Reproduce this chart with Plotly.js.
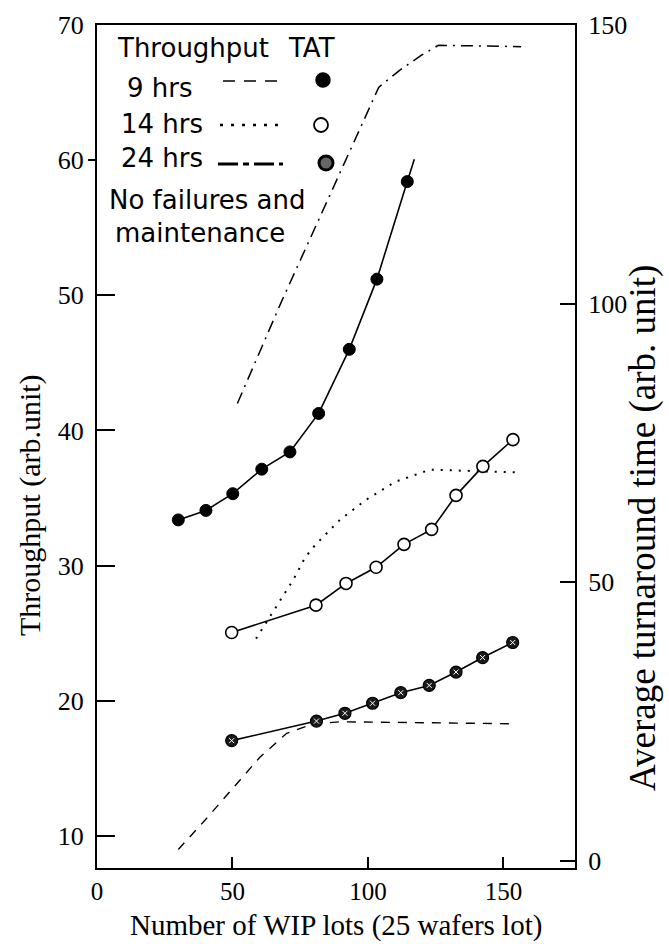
<!DOCTYPE html>
<html><head><meta charset="utf-8">
<script src="https://cdn.plot.ly/plotly-3.0.1.min.js"></script>
<style>html,body{margin:0;padding:0;background:#fff}</style>
</head><body><div id="chart" style="width:669px;height:944px"></div>
<script>
// ---- Average turnaround time (right axis), markers + solid line ----
const tat9_x = [30.0, 40.2, 50.1, 60.8, 71.2, 81.8, 93.1, 103.3, 114.5];
const tat9_y = [61.2, 62.9, 65.9, 70.3, 73.4, 80.3, 91.8, 104.4, 121.9];
const tat9_line_x = [30.0, 40.2, 50.1, 60.8, 71.2, 81.8, 93.1, 103.3, 114.5, 117.1];
const tat9_line_y = [61.2, 62.9, 65.9, 70.3, 73.4, 80.3, 91.8, 104.4, 121.9, 125.9];

const tat14_x = [49.7, 80.8, 91.9, 103.0, 113.3, 123.5, 132.5, 142.4, 153.5];
const tat14_y = [41.0, 45.9, 49.8, 52.7, 56.8, 59.5, 65.6, 70.8, 75.6];

const tat24_x = [49.7, 81.0, 91.5, 101.7, 112.1, 122.6, 132.5, 142.3, 153.4];
const tat24_y = [21.6, 25.1, 26.5, 28.3, 30.2, 31.5, 33.9, 36.5, 39.2];

// ---- Throughput (left axis), lines ----
const thr9_x = [30, 40, 50, 60, 70, 80, 90, 120, 154];
const thr9_y = [9.0, 11.2, 13.5, 15.8, 17.6, 18.3, 18.45, 18.4, 18.3];

const thr14_x = [58.7, 65.1, 72.4, 76.8, 80.4, 89.7, 99.5, 110.0, 122.9, 155];
const thr14_y = [24.6, 26.6, 28.95, 30.6, 31.5, 33.4, 34.9, 36.2, 37.1, 36.9];

const thr24_x = [51.8, 68, 85, 104, 112, 120, 126, 156.5];
const thr24_y = [42.0, 49.5, 57.0, 65.4, 66.7, 67.8, 68.5, 68.4];

// ---- axis ticks ----
const xTicks = [0, 50, 100, 150];
const leftTicks = [10, 20, 30, 40, 50, 60, 70];
const leftInnerTicks = [10, 20, 30, 40, 50];
const leftOuterTicks = [60];
const rightTicks = [0, 50, 100, 150];

const serif = 'Liberation Serif';
const sans = 'DejaVu Sans';

const traces = [
  {x: thr9_x, y: thr9_y, mode: 'lines', yaxis: 'y', line: {color: 'black', width: 1.4, dash: '9px,8px'}},
  {x: thr14_x, y: thr14_y, mode: 'lines', yaxis: 'y', line: {color: 'black', width: 2, dash: '2px,7px'}},
  {x: thr24_x, y: thr24_y, mode: 'lines', yaxis: 'y', line: {color: 'black', width: 1.5, dash: '12px,6px,2px,6px'}},
  {x: tat9_line_x, y: tat9_line_y, mode: 'lines', yaxis: 'y2', line: {color: 'black', width: 1.6}},
  {x: tat9_x, y: tat9_y, mode: 'markers', yaxis: 'y2', marker: {size: 12, color: 'black', line: {color: 'black', width: 1}}},
  {x: tat14_x, y: tat14_y, mode: 'lines+markers', yaxis: 'y2', line: {color: 'black', width: 1.6},
   marker: {size: 12, color: 'white', line: {color: 'black', width: 1.6}}},
  {x: tat24_x, y: tat24_y, mode: 'lines+markers', yaxis: 'y2', line: {color: 'black', width: 1.6},
   marker: {size: 12, color: '#1a1a1a', line: {color: 'black', width: 1.2}}},
  {x: tat24_x, y: tat24_y, mode: 'markers', yaxis: 'y2', marker: {size: 5, symbol: 'x-thin-open', color: 'white', line: {color: 'white', width: 1}}},
  {x: [], y: [], yaxis: 'y3', mode: 'markers'},
  {x: [], y: [], yaxis: 'y4', mode: 'markers'}
];

function px(v) { return (v - 97) / 478; }
function py(v) { return (868 - v) / 843; }

function legText(t, cx, cy) {
  return {text: t, xref: 'paper', yref: 'paper', x: px(cx), y: py(cy), showarrow: false,
          xanchor: 'center', yanchor: 'middle', font: {family: sans, size: 26, color: 'black'}};
}
function legLine(x0, x1, yy, dash, w) {
  return {type: 'line', xref: 'paper', yref: 'paper', x0: px(x0), x1: px(x1), y0: py(yy), y1: py(yy),
          line: {color: 'black', width: w, dash: dash}};
}
function legMark(cx, cy, fill, lw) {
  return {type: 'circle', xref: 'paper', yref: 'paper', xsizemode: 'pixel', ysizemode: 'pixel',
          xanchor: px(cx), yanchor: py(cy), x0: -7, x1: 7, y0: -7, y1: 7,
          fillcolor: fill, line: {color: 'black', width: lw}};
}

const yRange = [7.63, 70];
const layout = {
  width: 669, height: 944,
  margin: {l: 97, r: 94, t: 25, b: 76},
  paper_bgcolor: 'white', plot_bgcolor: 'white',
  showlegend: false,
  xaxis: {range: [0, 176.4], tickvals: xTicks, ticks: 'inside', ticklen: 11, tickwidth: 2, tickcolor: 'black',
          showline: true, linewidth: 2, linecolor: 'black', mirror: true, zeroline: false, showgrid: false,
          tickfont: {family: serif, size: 25, color: 'black'}},
  yaxis: {range: yRange, tickvals: leftTicks, ticks: '', showline: true, linewidth: 2, linecolor: 'black',
          zeroline: false, showgrid: false, ticklabelstandoff: 6,
          tickfont: {family: serif, size: 26, color: 'black'}},
  yaxis3: {range: yRange, overlaying: 'y', side: 'left', tickvals: leftInnerTicks, ticks: 'inside', ticklen: 18,
           tickwidth: 2, tickcolor: 'black', showticklabels: false, showline: false, zeroline: false, showgrid: false},
  yaxis4: {range: yRange, overlaying: 'y', side: 'left', tickvals: leftOuterTicks, ticks: 'outside', ticklen: 8,
           tickwidth: 2, tickcolor: 'black', showticklabels: false, showline: false, zeroline: false, showgrid: false},
  yaxis2: {range: [-1.26, 150], overlaying: 'y', side: 'right', tickvals: rightTicks, ticks: 'inside', ticklen: 15,
           tickwidth: 2, tickcolor: 'black', showline: true, linewidth: 2, linecolor: 'black',
           zeroline: false, showgrid: false, ticklabelstandoff: 6,
           tickfont: {family: serif, size: 26, color: 'black'}},
  annotations: [
    {text: 'Number of WIP lots (25 wafers lot)', xref: 'paper', yref: 'paper', x: px(336), y: py(925),
     showarrow: false, xanchor: 'center', yanchor: 'middle', font: {family: serif, size: 29, color: 'black'}},
    {text: 'Throughput (arb.unit)', xref: 'paper', yref: 'paper', x: px(30), y: py(505), textangle: -90,
     showarrow: false, xanchor: 'center', yanchor: 'middle', font: {family: serif, size: 30, color: 'black'}},
    {text: 'Average turnaround time (arb. unit)', xref: 'paper', yref: 'paper', x: px(643), y: py(528), textangle: -90,
     showarrow: false, xanchor: 'center', yanchor: 'middle', font: {family: serif, size: 37, color: 'black'}},
    legText('Throughput', 193, 48),
    legText('TAT', 311, 48),
    legText('9 hrs', 160, 88),
    legText('14 hrs', 162, 124),
    legText('24 hrs', 162, 158),
    legText('No failures and', 207, 200),
    legText('maintenance', 200, 233)
  ],
  shapes: [
    legLine(223, 277, 81, '12px,9px', 1.6),
    legLine(220, 278, 125, '3px,8px', 2.5),
    legLine(218, 283, 164, '20px,5px,6px,5px', 2.8),
    legMark(323, 80, 'black', 1.5),
    legMark(321, 125, 'white', 1.8),
    legMark(326, 163, '#666', 3)
  ]
};

Plotly.newPlot('chart', traces, layout, {staticPlot: true});
</script></body></html>
